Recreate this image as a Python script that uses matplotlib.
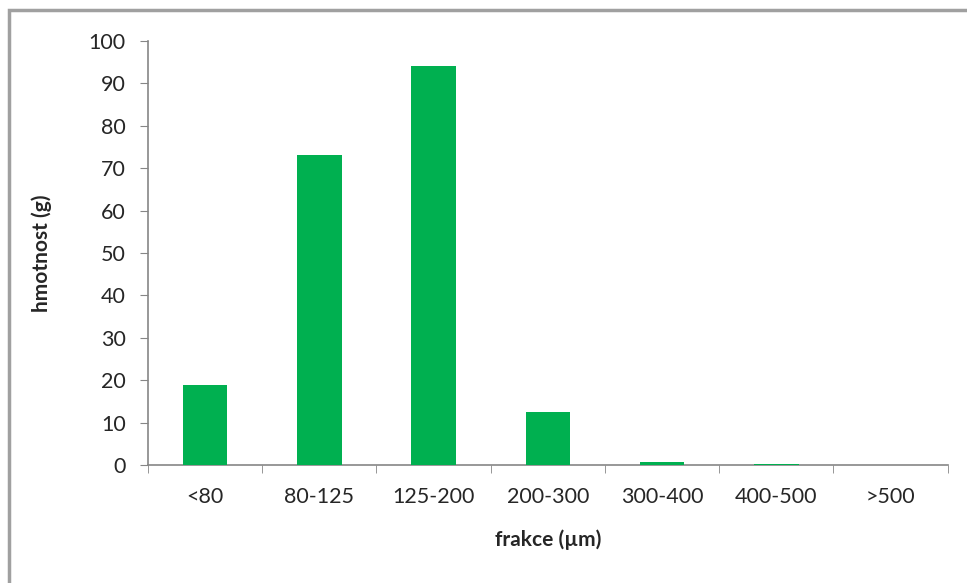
import matplotlib
matplotlib.use("Agg")
import matplotlib.pyplot as plt
from matplotlib.patches import Rectangle

# data
categories = ['<80', '80-125', '125-200', '200-300', '300-400', '400-500', '>500']
hmotnost = [18.8, 73.2, 94.0, 12.4, 0.6, 0.3, 0.0]

plt.rcParams['font.family'] = ['Lato', 'DejaVu Sans']

fig = plt.figure(figsize=(9.67, 5.83), dpi=100)
ax = fig.add_axes([0.153, 0.2024, 0.827, 0.7273])

x = range(len(categories))
ax.bar(x, hmotnost, width=0.39, color='#00B050', zorder=3)

ax.set_xlim(-0.5, len(categories) - 0.5)
ax.set_ylim(0, 100)
ax.set_yticks(range(0, 101, 10))
ax.set_xticks(list(x))
ax.set_xticklabels(categories)
# tick marks between categories, Excel style
ax.set_xticks([i - 0.5 for i in range(len(categories) + 1)], minor=True)
ax.tick_params(axis='x', which='major', length=0, pad=16, labelsize=15.5, labelcolor='#262626')
ax.tick_params(axis='x', which='minor', length=6, color='#868686', direction='out')
ax.tick_params(axis='y', length=6, color='#868686', pad=10, labelsize=15.5, labelcolor='#262626')

for s in ['top', 'right']:
    ax.spines[s].set_visible(False)
for s in ['left', 'bottom']:
    ax.spines[s].set_color('#868686')
    ax.spines[s].set_linewidth(1.2)

ax.set_xlabel('frakce (µm)', fontsize=15, fontweight='bold', color='#262626', labelpad=16)
ax.set_ylabel('hmotnost (g)', fontsize=15, fontweight='bold', color='#262626', labelpad=26)

# chart frame
fig.patches.append(Rectangle((9 / 967, -0.05), 1.1, 1.05 - 10 / 583,
                             transform=fig.transFigure, fill=False,
                             edgecolor='#A0A0A0', linewidth=2.5))

fig.savefig('out.png', dpi=100)
